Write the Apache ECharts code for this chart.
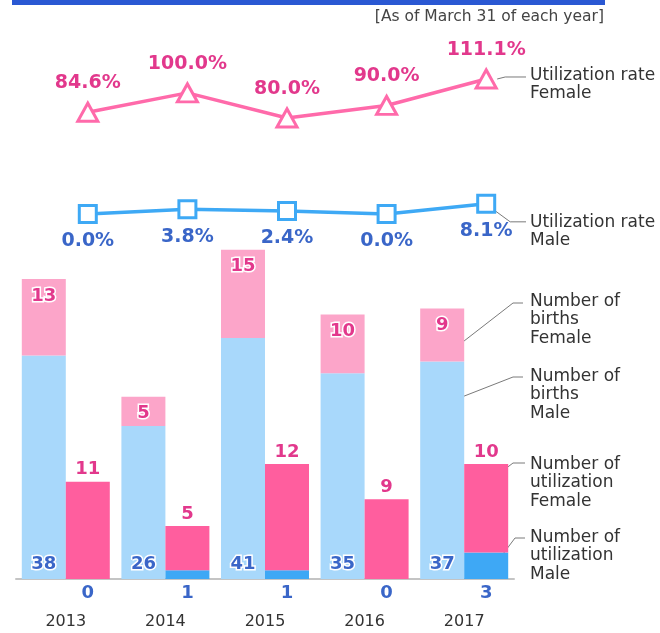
<!DOCTYPE html>
<html>
<head>
<meta charset="utf-8">
<script src="https://cdn.jsdelivr.net/npm/echarts@6/dist/echarts.min.js"></script>
<style>
html,body{margin:0;padding:0;background:#fff;}
#chart{width:660px;height:633px;}
</style>
</head>
<body>
<div id="chart"></div>
<script>
const years = ['2013','2014','2015','2016','2017'];
const rateFemale = [84.6, 100.0, 80.0, 90.0, 111.1];
const rateMale = [0.0, 3.8, 2.4, 0.0, 8.1];
const birthsMale = [38, 26, 41, 35, 37];
const birthsFemale = [13, 5, 15, 10, 9];
const utilMale = [0, 1, 1, 0, 3];
const utilFemale = [11, 5, 12, 9, 10];

const FONT = 'DejaVu Sans';
const PINK_TXT = '#e2388c';
const BLUE_TXT = '#3a66c8';

const chart = echarts.init(document.getElementById('chart'));
const option = {
  animation: false,
  backgroundColor: '#fff',
  textStyle: { fontFamily: FONT },
  grid: [
    { left: 38, width: 498, top: 60, height: 170 },
    { left: 16, width: 498, top: 240, height: 339 }
  ],
  xAxis: [
    { type: 'category', data: years, gridIndex: 0, show: false },
    { type: 'category', data: years, gridIndex: 1,
      axisLine: { lineStyle: { color: '#c4c4c4', width: 2 } },
      axisTick: { show: false },
      axisLabel: { color: '#333', fontSize: 16, fontFamily: FONT, margin: 35 } }
  ],
  yAxis: [
    { type: 'value', gridIndex: 0, min: -9.33, max: 126.24, show: false },
    { type: 'value', gridIndex: 0, min: -12.76, max: 122.81, show: false },
    { type: 'value', gridIndex: 1, min: 0, max: 57.65, show: false },
    { type: 'value', gridIndex: 1, min: 0, max: 38.3, show: false }
  ],
  series: [
    { name: 'Utilization rate Female', type: 'line', xAxisIndex: 0, yAxisIndex: 0,
      data: rateFemale, symbol: 'triangle', symbolSize: [20, 18],
      lineStyle: { color: '#ff6aaa', width: 3.5 },
      itemStyle: { color: '#fff', borderColor: '#ff6aaa', borderWidth: 3 },
      label: { show: true, position: 'top', distance: 9, color: PINK_TXT,
        fontSize: 19, fontWeight: 'bold', fontFamily: FONT,
        formatter: p => p.value.toFixed(1) + '%' }, z: 5 },
    { name: 'Utilization rate Male', type: 'line', xAxisIndex: 0, yAxisIndex: 1,
      data: rateMale, symbol: 'rect', symbolSize: 17,
      lineStyle: { color: '#3ea9f5', width: 3.5 },
      itemStyle: { color: '#fff', borderColor: '#3ea9f5', borderWidth: 3 },
      label: { show: true, position: 'bottom', distance: 8, color: BLUE_TXT,
        fontSize: 19, fontWeight: 'bold', fontFamily: FONT,
        formatter: p => p.value.toFixed(1) + '%' }, z: 5 },
    { name: 'Number of births Male', type: 'bar', xAxisIndex: 1, yAxisIndex: 2,
      stack: 'births', data: birthsMale, barWidth: 44, barGap: '0%',
      itemStyle: { color: '#a8d8fb' },
      label: { show: true, position: 'insideBottom', distance: 6, color: BLUE_TXT,
        fontSize: 18, fontWeight: 'bold', fontFamily: FONT,
        textBorderColor: '#fff', textBorderWidth: 3 } },
    { name: 'Number of births Female', type: 'bar', xAxisIndex: 1, yAxisIndex: 2,
      stack: 'births', data: birthsFemale, barWidth: 44, barGap: '0%',
      itemStyle: { color: '#fca5c9' },
      label: { show: true, position: 'insideTop', distance: 8, color: PINK_TXT,
        fontSize: 18, fontWeight: 'bold', fontFamily: FONT,
        textBorderColor: '#fff', textBorderWidth: 3 } },
    { name: 'Number of utilization Male', type: 'bar', xAxisIndex: 1, yAxisIndex: 3,
      stack: 'util', data: utilMale, barWidth: 44, barGap: '0%',
      itemStyle: { color: '#3ea8f5' },
      label: { show: true, position: 'bottom', distance: 5, color: BLUE_TXT,
        fontSize: 18, fontWeight: 'bold', fontFamily: FONT } },
    { name: 'Number of utilization Female', type: 'bar', xAxisIndex: 1, yAxisIndex: 3,
      stack: 'util', data: utilFemale, barWidth: 44, barGap: '0%',
      itemStyle: { color: '#ff5e9e' },
      label: { show: true, position: 'top', distance: 3, color: PINK_TXT,
        fontSize: 18, fontWeight: 'bold', fontFamily: FONT,
        formatter: p => String(p.value) } }
  ]
};
chart.setOption(option);

// Annotations: header band, note, callout texts with leader lines
const last = years.length - 1;
const px = (si, v) => chart.convertToPixel({ seriesIndex: si }, [last, v]);
const pF = px(0, rateFemale[last]);
const pM = px(1, rateMale[last]);
const pBF = px(2, birthsMale[last] + birthsFemale[last] * 0.3);
const pBM = px(2, birthsMale[last] * 0.83);
const pUF = px(5, utilMale[last] + utilFemale[last] * 0.9);
const pUM = px(5, utilMale[last] * 0.8);
const bxB = pBF[0] - 6;   // inside births bar
const bxU = pUF[0] + 36;  // inside utilization bar
const txtX = 530;
const lineC = '#7a7a7a';

function callout(lines, y0) {
  return {
    type: 'text', left: txtX, top: y0,
    style: { text: lines.join('\n'), fill: '#333', font: '17px "DejaVu Sans"', lineHeight: 18.5 }
  };
}
function leader(points) {
  return { type: 'polyline', shape: { points }, style: { stroke: lineC, lineWidth: 1, fill: null }, silent: true };
}

chart.setOption({
  graphic: [
    { type: 'rect', shape: { x: 12, y: 0, width: 593, height: 5 }, style: { fill: '#2a58d3' } },
    { type: 'text', right: 56, top: 9, style: { text: '[As of March 31 of each year]', fill: '#444', font: '15.5px "DejaVu Sans"' } },
    leader([[pF[0] + 11, pF[1]], [pF[0] + 19, pF[1] - 2], [txtX - 4, pF[1] - 2]]),
    callout(['Utilization rate', 'Female'], 66),
    leader([[pM[0] + 9, pM[1] + 7], [pM[0] + 24, pM[1] + 18], [txtX - 4, pM[1] + 18]]),
    callout(['Utilization rate', 'Male'], 213),
    leader([[bxB, pBF[1]], [513, 303], [523, 303]]),
    callout(['Number of', 'births', 'Female'], 292),
    leader([[bxB, pBM[1]], [513, 377], [523, 377]]),
    callout(['Number of', 'births', 'Male'], 367),
    leader([[bxU, pUF[1]], [513, 463], [525, 463]]),
    callout(['Number of', 'utilization', 'Female'], 455),
    leader([[bxU, pUM[1]], [515, 538], [525, 538]]),
    callout(['Number of', 'utilization', 'Male'], 528)
  ]
});
</script>
</body>
</html>
